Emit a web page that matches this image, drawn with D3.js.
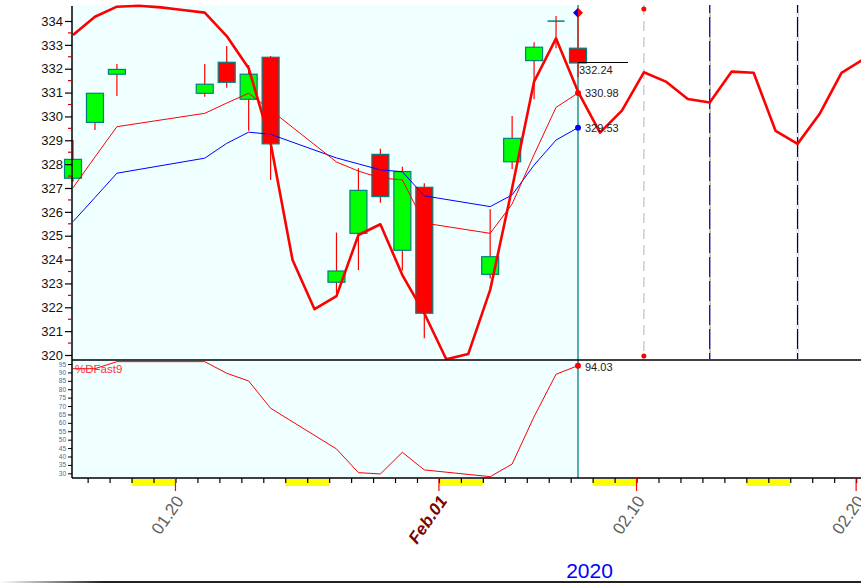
<!DOCTYPE html>
<html><head><meta charset="utf-8">
<script src="https://cdn.jsdelivr.net/npm/d3@7"></script>
<style>
body{margin:0;background:#fff;}
svg{display:block;font-family:Arial,"Liberation Sans",sans-serif;}
</style>
</head><body>
<svg id="c" width="861" height="583"></svg>
<script>
// ---------- data ----------
const tradeDates = ["2020-01-15","2020-01-16","2020-01-17","2020-01-21","2020-01-22","2020-01-23","2020-01-24",
  "2020-01-27","2020-01-28","2020-01-29","2020-01-30","2020-01-31","2020-02-03","2020-02-04","2020-02-05","2020-02-06","2020-02-07"];
const openV  = [327.41,329.75,331.77,330.97,332.27,330.72,332.48,323.05,325.10,328.41,324.39,327.03,323.38,328.10,332.34,333.98,332.86];
const highV  = [329.01,330.97,332.20,332.20,332.95,332.16,332.53,325.13,327.83,328.64,327.89,327.20,326.11,330.02,333.11,334.21,334.35];
const lowV   = [327.27,329.43,330.86,330.83,331.20,329.40,327.34,322.59,323.56,326.38,323.54,320.70,323.21,327.80,330.72,332.86,331.64];
const closeV = [328.20,330.97,331.97,331.35,331.43,331.77,328.85,323.52,326.90,326.64,327.69,321.75,324.12,329.08,332.90,334.01,332.24];
// thin red average
const avgRed  = [327.01,328.30,329.57,330.13,330.56,330.97,330.27,328.09,327.71,327.42,327.34,325.53,325.10,326.33,328.40,330.38,330.98];
// blue average
const avgBlue = [325.59,326.60,327.62,328.25,328.87,329.34,329.25,328.26,328.01,327.76,327.68,326.67,326.22,326.71,327.96,329.01,329.53];
// %DFast9 oscillator
const dFast9  = [92.2,92.2,96.4,96.4,89.5,84.9,68.7,44.5,30.4,29.6,42.5,32.0,28.0,35.5,63.7,88.9,94.03];
// thick red projection line, one value per calendar day from 2020-01-15 to 2020-02-20
const projStart = "2020-01-15";
const projVals = [333.41,334.18,334.60,334.64,334.57,334.46,334.35,333.37,332.02,328.89,323.98,321.92,322.47,325.03,
  325.48,323.35,321.75,319.82,320.04,322.73,327.00,331.46,333.27,331.04,329.32,330.24,331.85,331.46,330.73,330.58,
  331.88,331.83,329.39,328.85,330.10,331.83,332.40];
const yTicksMain = [320,321,322,323,324,325,326,327,328,329,330,331,332,333,334];
const yTicksLow = [30,35,40,45,50,55,60,65,70,75,80,85,90,95];
const xLabelDates = ["2020-01-20","2020-02-01","2020-02-10","2020-02-20"];
const xLabelText = ["01.20","Feb.01","02.10","02.20"];
const yearLabel = "2020";
const greyLineDate = "2020-02-10";
const navyLineDates = ["2020-02-13","2020-02-17"];

// ---------- helpers ----------
const parse = s => { const [a,b,c] = s.split("-").map(Number); return new Date(a,b-1,c,8); };
const parseMid = s => { const [a,b,c] = s.split("-").map(Number); return new Date(a,b-1,c); };
const tDates = tradeDates.map(parse);
const projDates = projVals.map((v,i)=> d3.timeDay.offset(parse(projStart), i));

const svg = d3.select("#c");
const L = 72, R = 861, Ttop = 5, Mbot = 360, Bbot = 478, cursorX = 578;

const x = d3.scaleTime().domain([parse("2020-01-15"), parse("2020-02-07")]).range([73,578]);
const y = d3.scaleLinear().domain([320,334]).range([355,21]);
const yl = d3.scaleLinear().domain([30,95]).range([473.3,364]);

// defs
const defs = svg.append("defs");
defs.append("clipPath").attr("id","cm").append("rect").attr("x",L).attr("y",0).attr("width",R-L).attr("height",Mbot);
defs.append("clipPath").attr("id","cc").append("rect").attr("x",50).attr("y",0).attr("width",R-50).attr("height",Mbot);
defs.append("clipPath").attr("id","cl").append("rect").attr("x",L).attr("y",Mbot).attr("width",R-L).attr("height",Bbot-Mbot);
const g = defs.append("linearGradient").attr("id","bl").attr("x1","0").attr("x2","1");
g.append("stop").attr("offset","0").attr("stop-color","#fff");
g.append("stop").attr("offset","0.12").attr("stop-color","#222");
g.append("stop").attr("offset","1").attr("stop-color","#222");

// backgrounds
svg.append("rect").attr("x",L).attr("y",Ttop).attr("width",cursorX-L).attr("height",Bbot-Ttop).attr("fill","#F0FFFF");

// vertical marker lines (future)
const gx = x(parse(greyLineDate));
svg.append("line").attr("x1",gx).attr("x2",gx).attr("y1",Ttop).attr("y2",Mbot)
  .attr("stroke","#c0c0c0").attr("stroke-width",1.2).attr("stroke-dasharray","10,6");
svg.append("circle").attr("cx",gx).attr("cy",9).attr("r",2.5).attr("fill","#ff0000");
svg.append("circle").attr("cx",gx).attr("cy",356).attr("r",2.5).attr("fill","#ff0000");
navyLineDates.forEach((d,k)=>{
  const nx = x(parse(d));
  svg.append("line").attr("x1",nx).attr("x2",nx).attr("y1",Ttop).attr("y2",Mbot-1)
    .attr("stroke", k===0 ? "#0000a0" : "#000050").attr("stroke-width",1.3);
  svg.append("line").attr("x1",nx).attr("x2",nx).attr("y1",Ttop+8).attr("y2",Mbot-1)
    .attr("stroke", k===0 ? "#ffff00" : "#ffffff").attr("stroke-width",1.3).attr("stroke-dasharray","4,20");
});

// cursor line
svg.append("line").attr("x1",cursorX).attr("x2",cursorX).attr("y1",Ttop).attr("y2",Bbot)
  .attr("stroke","#008080").attr("stroke-width",1.3);

// candles
const cg = svg.append("g").attr("clip-path","url(#cc)");
const cw = 17;
tDates.forEach((d,i)=>{
  const cx = x(d);
  cg.append("line").attr("x1",cx).attr("x2",cx).attr("y1",y(highV[i])).attr("y2",y(lowV[i]))
    .attr("stroke","#ff0000").attr("stroke-width",1.2);
  const up = closeV[i] >= openV[i];
  const top = y(Math.max(openV[i],closeV[i])), bot = y(Math.min(openV[i],closeV[i]));
  if (bot - top < 1.5) {
    cg.append("line").attr("x1",cx-cw/2).attr("x2",cx+cw/2).attr("y1",(top+bot)/2).attr("y2",(top+bot)/2)
      .attr("stroke","#008080").attr("stroke-width",1.5);
  } else {
    cg.append("rect").attr("x",cx-cw/2).attr("y",top).attr("width",cw).attr("height",bot-top)
      .attr("fill", up ? "#00ff00" : "#ff0000").attr("stroke","#008080").attr("stroke-width",1.2);
  }
});

// lines
const lg = svg.append("g").attr("clip-path","url(#cm)");
const lineT = d3.line().x((d,i)=>x(tDates[i])).y(d=>y(d));
lg.append("path").attr("d",lineT(avgBlue)).attr("fill","none").attr("stroke","#0000ff").attr("stroke-width",1);
lg.append("path").attr("d",lineT(avgRed)).attr("fill","none").attr("stroke","#ff0000").attr("stroke-width",1);
const lineP = d3.line().x((d,i)=>x(projDates[i])).y(d=>y(d));
lg.append("path").attr("d",lineP(projVals)).attr("fill","none").attr("stroke","#ff0000").attr("stroke-width",2.6)
  .attr("stroke-linejoin","round");

// lower oscillator
const og = svg.append("g").attr("clip-path","url(#cl)");
const lineO = d3.line().x((d,i)=>x(tDates[i])).y(d=>yl(d));
og.append("path").attr("d",lineO(dFast9)).attr("fill","none").attr("stroke","#ff0000").attr("stroke-width",1);
svg.append("text").attr("x",75).attr("y",373).attr("font-size",11.5).attr("fill","#ff2020").attr("opacity",0.9).text("%DFast9");

// last value markers
const last = tradeDates.length-1;
const lx = x(tDates[last]);
svg.append("circle").attr("cx",lx).attr("cy",y(avgRed[last])).attr("r",3).attr("fill","#ff0000");
svg.append("circle").attr("cx",lx).attr("cy",y(avgBlue[last])).attr("r",3).attr("fill","#0000ff");
svg.append("circle").attr("cx",lx).attr("cy",yl(dFast9[last])).attr("r",3).attr("fill","#ff0000");
const dy = y(highV[last]);
svg.append("path").attr("d",`M${lx},${dy-5} L${lx-5},${dy} L${lx},${dy+5} Z`).attr("fill","#0000ff");
svg.append("path").attr("d",`M${lx},${dy-5} L${lx+5},${dy} L${lx},${dy+5} Z`).attr("fill","#ff0000");
svg.append("line").attr("x1",lx).attr("x2",628).attr("y1",y(closeV[last])-0.5).attr("y2",y(closeV[last])-0.5)
  .attr("stroke","#000").attr("stroke-width",1.2);
svg.append("text").attr("x",lx+1).attr("y",y(closeV[last])+11).attr("font-size",11).attr("fill","#222").text(closeV[last].toFixed(2));
svg.append("text").attr("x",lx+7).attr("y",y(avgRed[last])+4).attr("font-size",11).attr("fill","#222").text(avgRed[last].toFixed(2));
svg.append("text").attr("x",lx+7).attr("y",y(avgBlue[last])+4).attr("font-size",11).attr("fill","#222").text(avgBlue[last].toFixed(2));
svg.append("text").attr("x",lx+7).attr("y",yl(dFast9[last])+5).attr("font-size",11).attr("fill","#222").text(dFast9[last].toFixed(2));

// frame lines
svg.append("line").attr("x1",L).attr("x2",L).attr("y1",6).attr("y2",Bbot).attr("stroke","#000").attr("stroke-width",1.5);
svg.append("line").attr("x1",L).attr("x2",R).attr("y1",Mbot).attr("y2",Mbot).attr("stroke","#000").attr("stroke-width",1.5);
svg.append("line").attr("x1",L).attr("x2",R).attr("y1",Bbot).attr("y2",Bbot).attr("stroke","#000").attr("stroke-width",1.5);

// main y axis
const ya = svg.append("g").attr("transform",`translate(${L},0)`)
  .call(d3.axisLeft(y).tickValues(yTicksMain).tickSize(7).tickPadding(2).tickFormat(d3.format("d")));
ya.select(".domain").remove();
ya.selectAll("text").attr("font-size",13).attr("font-family","Arial,'Liberation Sans',sans-serif").attr("fill","#111");
ya.selectAll("line").attr("stroke","#000").attr("stroke-width",1.2);
yTicksMain.slice(0,-1).forEach(v=>{
  svg.append("line").attr("x1",L-4).attr("x2",L).attr("y1",y(v+0.5)).attr("y2",y(v+0.5)).attr("stroke","#cc0000").attr("stroke-width",1.2);
});

// lower y axis
const yla = svg.append("g").attr("transform",`translate(${L},0)`)
  .call(d3.axisLeft(yl).tickValues(yTicksLow).tickSize(4).tickPadding(2).tickFormat(d3.format("d")));
yla.select(".domain").remove();
yla.selectAll("text").attr("font-size",6.5).attr("font-family","Arial,'Liberation Sans',sans-serif").attr("fill","#4a6aa0");
yla.selectAll("line").attr("stroke","#000");

// x axis: weekends, day ticks, labels
const days = d3.timeDay.range(new Date(2020,0,15), new Date(2020,1,22));
days.forEach(d=>{
  const wd = d.getDay();
  const x0 = x(d), x1 = x(d3.timeDay.offset(d,1));
  if ((wd===6 || wd===0) && x0 >= L) {
    svg.append("rect").attr("x",x0).attr("y",479).attr("width",Math.min(x1,R)-x0).attr("height",7).attr("fill","#ffff00");
  }
});
const xt = svg.append("g").attr("transform",`translate(0,${Bbot})`)
  .call(d3.axisBottom(x).tickValues(days.filter(d=>x(d)>L+3 && x(d)<R)).tickSize(5).tickFormat(""));
xt.select(".domain").remove();
xt.selectAll("line").attr("stroke","#000").attr("stroke-width",1.2);
xLabelDates.forEach((s,i)=>{
  const tx = x(parseMid(s));
  svg.append("line").attr("x1",tx).attr("x2",tx).attr("y1",Bbot).attr("y2",491).attr("stroke","#ff0000").attr("stroke-width",1.2);
  const feb = xLabelText[i].startsWith("Feb");
  svg.append("text").attr("transform",`translate(${tx+9},${501}) rotate(-55)`).attr("text-anchor","end")
    .attr("font-size",17).attr("fill", feb ? "#800000" : "#606060")
    .attr("font-weight", feb ? "bold" : "normal").attr("font-style", feb ? "italic" : "normal")
    .text(xLabelText[i]);
});
svg.append("text").attr("x",589.5).attr("y",578).attr("text-anchor","middle").attr("font-size",21).attr("fill","#0000ff").text(yearLabel);
svg.append("rect").attr("x",0).attr("y",581).attr("width",861).attr("height",2).attr("fill","url(#bl)");
</script>
</body></html>
